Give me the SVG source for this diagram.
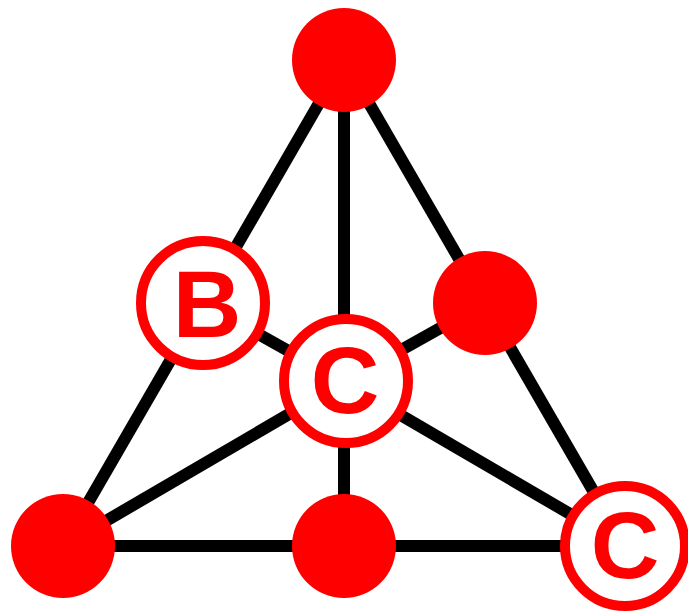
<svg xmlns="http://www.w3.org/2000/svg" width="688" height="616" viewBox="0 0 688 616">
<style>
.edge{stroke:#000;stroke-width:12;fill:none}
.solid{fill:#ff0000}
.ring{fill:#fff;stroke:#ff0000;stroke-width:10}
.lbl{fill:#ff0000;font-family:"Liberation Sans",Arial,sans-serif;font-weight:bold;text-anchor:middle;font-size:95px}
</style>
<rect width="688" height="616" fill="#fff"/>
<g id="connectors">
<line class="edge" x1="344" y1="60" x2="63" y2="546"/>
<line class="edge" x1="344" y1="60" x2="625" y2="546"/>
<line class="edge" x1="344" y1="60" x2="344" y2="546"/>
<line class="edge" x1="63" y1="546" x2="625" y2="546"/>
<line class="edge" x1="344" y1="382" x2="63" y2="546"/>
<line class="edge" x1="344" y1="382" x2="625" y2="546"/>
<line class="edge" x1="344" y1="382" x2="203" y2="303"/>
<line class="edge" x1="344" y1="382" x2="485" y2="303"/>
</g>
<g id="n-top"><circle class="solid" cx="344" cy="60" r="52"/></g>
<g id="n-right"><circle class="solid" cx="485" cy="303" r="52"/></g>
<g id="n-bl"><circle class="solid" cx="63" cy="546" r="52"/></g>
<g id="n-bm"><circle class="solid" cx="344" cy="546" r="52"/></g>
<g id="n-b"><circle class="ring" cx="203" cy="303" r="62"/><text class="lbl" x="207" y="337">B</text></g>
<g id="n-c"><circle class="ring" cx="346" cy="381" r="62"/><text class="lbl" x="345" y="413">C</text></g>
<g id="n-cbr"><circle class="ring" cx="625" cy="546" r="60"/><text class="lbl" x="625" y="578">C</text></g>
</svg>
